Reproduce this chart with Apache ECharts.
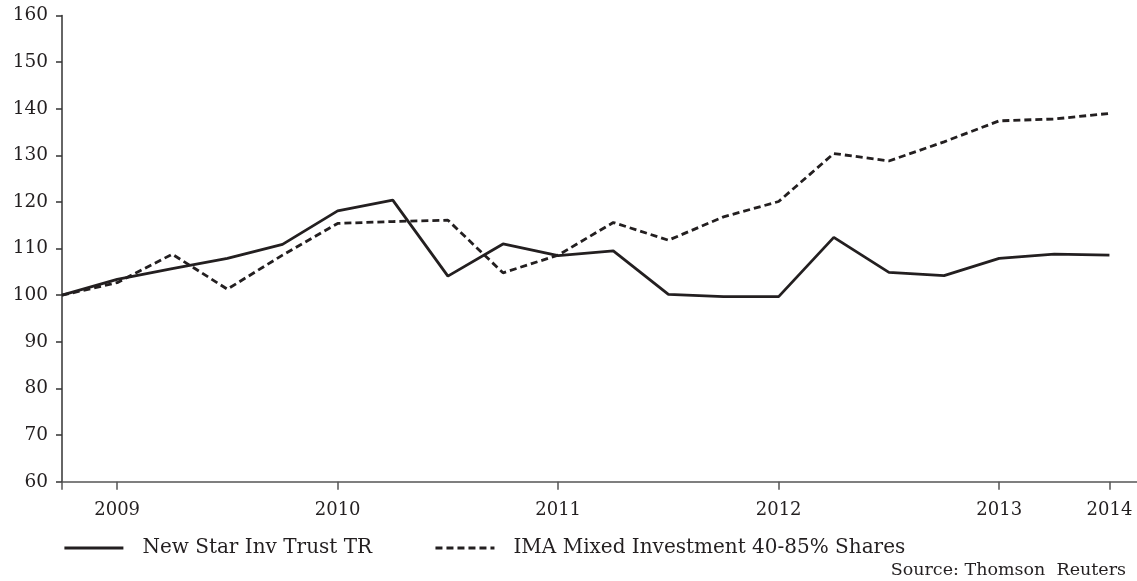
<!DOCTYPE html>
<html>
<head>
<meta charset="utf-8">
<script src="https://cdn.jsdelivr.net/npm/echarts@6/dist/echarts.min.js"></script>
<style>
html,body{margin:0;padding:0;background:#fff;}
#chart{width:1137px;height:581px;}
</style>
</head>
<body>
<div id="chart"></div>
<script>
// Quarterly points; only some carry a year label
const periodLabels = ['', '2009', '', '', '', '2010', '', '', '', '2011', '', '', '', '2012', '', '', '', '2013', '', '2014'];
const seriesNames = ['New Star Inv Trust TR', 'IMA Mixed Investment 40-85% Shares'];
const newStar = [100, 103.4, 105.7, 107.9, 110.9, 118.1, 120.4, 104.1, 111.0, 108.5, 109.5, 100.2, 99.7, 99.7, 112.4, 104.9, 104.2, 107.9, 108.8, 108.6];
const imaMixed = [100, 102.7, 108.8, 101.3, 108.6, 115.4, 115.8, 116.1, 104.8, 108.6, 115.6, 111.8, 116.8, 120.1, 130.4, 128.8, 132.9, 137.4, 137.8, 139.0];
const yTicks = [60, 70, 80, 90, 100, 110, 120, 130, 140, 150, 160];
const sourceText = 'Source: Thomson  Reuters';

const FONT = 'DejaVu Serif';
const INK = '#231f20';
const labelIdx = periodLabels.map((l, i) => l ? i : -1).filter(i => i >= 0);
const toPairs = arr => arr.map((v, i) => [i, v]);

const chart = echarts.init(document.getElementById('chart'));
chart.setOption({
  animation: false,
  backgroundColor: '#fff',
  textStyle: { fontFamily: FONT, color: INK },
  grid: { left: 62, right: 0, top: 15.5, bottom: 99.3, containLabel: false },
  title: {
    text: sourceText, right: 11, top: 561, padding: 0,
    textStyle: { fontFamily: FONT, fontSize: 17.5, fontWeight: 'normal', color: INK }
  },
  legend: {
    left: 63, top: 538, padding: 0,
    itemWidth: 59, itemHeight: 14, itemGap: 62,
    itemStyle: { opacity: 0 },
    lineStyle: { width: 2.8, opacity: 1 },
    textStyle: { fontFamily: FONT, fontSize: 20, color: INK, padding: [0, 0, 0, 14] },
    data: [seriesNames[0], seriesNames[1]]
  },
  xAxis: {
    type: 'value', min: 0, max: 19.5,
    axisLine: { show: true, onZero: false, lineStyle: { color: '#555', width: 1.5 } },
    axisTick: { show: true, length: 8, customValues: [0].concat(labelIdx), lineStyle: { color: '#555', width: 1.5 } },
    axisLabel: {
      customValues: labelIdx, margin: 20, fontFamily: FONT, fontSize: 18, color: INK,
      formatter: v => periodLabels[Math.round(v)] || ''
    },
    splitLine: { show: false }
  },
  yAxis: {
    type: 'value', min: yTicks[0], max: yTicks[yTicks.length - 1], interval: 10,
    axisLine: { show: true, lineStyle: { color: '#333', width: 1.5 } },
    axisTick: { show: true, length: 6, lineStyle: { color: '#333', width: 1.5 } },
    axisLabel: { margin: 14, fontFamily: FONT, fontSize: 18.5, color: INK },
    splitLine: { show: false }
  },
  series: [
    {
      name: seriesNames[0], type: 'line', data: toPairs(newStar),
      symbol: 'none', lineStyle: { color: INK, width: 2.8, type: 'solid' }, itemStyle: { color: INK }
    },
    {
      name: seriesNames[1], type: 'line', data: toPairs(imaMixed),
      symbol: 'none', lineStyle: { color: INK, width: 2.8, type: [7, 4] }, itemStyle: { color: INK }
    }
  ]
});
</script>
</body>
</html>
